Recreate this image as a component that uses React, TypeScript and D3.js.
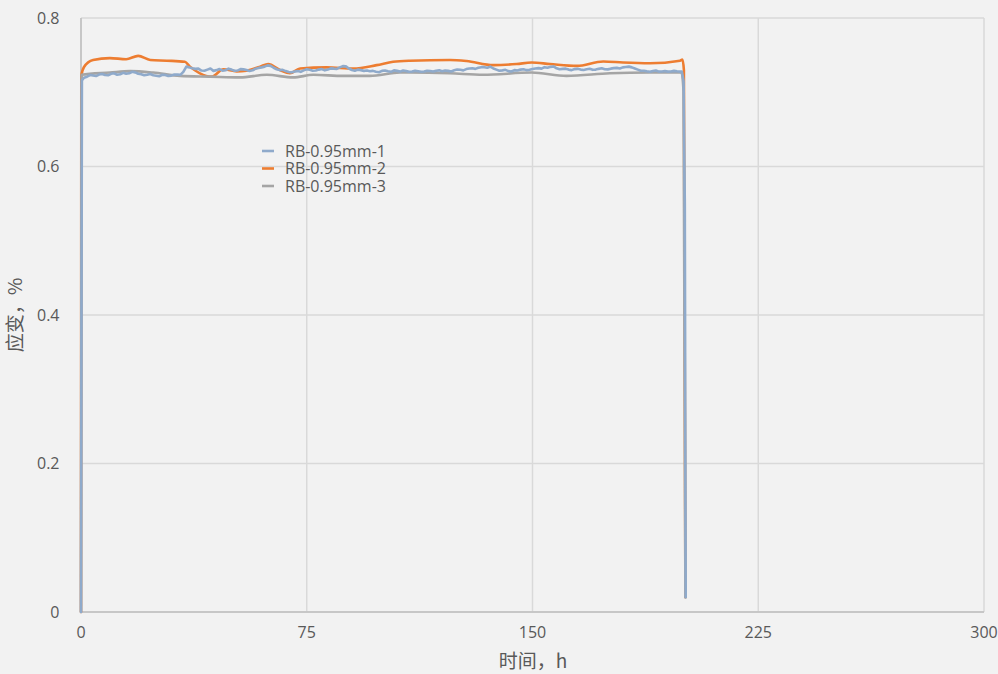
import React from "react";
import * as d3 from "d3";

const xTicks = [0, 75, 150, 225, 300];
const yTicks = [0, 0.2, 0.4, 0.6, 0.8];
const seriesNames = ["RB-0.95mm-1", "RB-0.95mm-2", "RB-0.95mm-3"];
const seriesColors = ["#8faacb", "#ed7d31", "#a5a5a5"];

const blueT = [0, 0.3, ...d3.range(1, 200), 199.6, 200.2, 200.6, 200.9];
const blueV = [
  0, 0.716,
  0.7195, 0.721, 0.7232, 0.7225, 0.7218, 0.7238, 0.7245, 0.7232, 0.7228, 0.7248,
  0.7255, 0.7236, 0.7242, 0.7262, 0.725, 0.7255, 0.7275, 0.7268, 0.725, 0.7242,
  0.7228, 0.7235, 0.7245, 0.7228, 0.7222, 0.7215, 0.7236, 0.7232, 0.7218, 0.7224,
  0.724, 0.7238, 0.7235, 0.7275, 0.7345, 0.7335, 0.7322, 0.7315, 0.7318, 0.7292,
  0.729, 0.7305, 0.732, 0.7288, 0.7298, 0.7312, 0.729, 0.7296, 0.7318, 0.7305,
  0.729, 0.7292, 0.7312, 0.7308, 0.73, 0.7286, 0.7295, 0.7318, 0.7328, 0.7335,
  0.7345, 0.7362, 0.7355, 0.733, 0.731, 0.7298, 0.7302, 0.7285, 0.7272, 0.7268,
  0.728, 0.7285, 0.7275, 0.7295, 0.731, 0.7302, 0.729, 0.7292, 0.7305, 0.7312,
  0.7295, 0.7305, 0.7322, 0.7318, 0.7315, 0.7335, 0.7352, 0.7348, 0.732, 0.73,
  0.729, 0.7305, 0.7298, 0.7288, 0.7292, 0.7282, 0.7288, 0.7275, 0.727, 0.7288,
  0.7292, 0.7282, 0.7275, 0.7295, 0.7288, 0.7278, 0.7292, 0.7286, 0.7275, 0.728,
  0.729, 0.7283, 0.7276, 0.7279, 0.729, 0.7286, 0.728, 0.729, 0.7295, 0.7282,
  0.7292, 0.7288, 0.728, 0.7296, 0.7305, 0.7302, 0.7295, 0.7312, 0.732, 0.7322,
  0.7315, 0.733, 0.7338, 0.7338, 0.733, 0.7345, 0.732, 0.7305, 0.729, 0.7295,
  0.7302, 0.7285, 0.728, 0.7298, 0.7292, 0.7305, 0.731, 0.7298, 0.7302, 0.7312,
  0.732, 0.7325, 0.7318, 0.7338, 0.733, 0.7342, 0.7348, 0.7322, 0.731, 0.7315,
  0.7318, 0.7305, 0.7298, 0.7312, 0.7315, 0.7305, 0.73, 0.731, 0.7316, 0.7302,
  0.7305, 0.7315, 0.7322, 0.731, 0.7308, 0.7318, 0.7325, 0.7328, 0.732, 0.7335,
  0.734, 0.7345, 0.7335, 0.732, 0.7305, 0.729, 0.729, 0.7282, 0.7276, 0.7285,
  0.7292, 0.7278, 0.728, 0.7286, 0.7278, 0.728, 0.7288, 0.7282, 0.7278,
  0.728, 0.715, 0.55, 0.02,
];

const orangeT = [0, 0.1, 1, 4, 9.6, 15, 19, 23, 28.5, 34.5, 36.2, 39.5, 43.4, 47.3, 51.7, 55, 59.5, 62.2, 66.1, 69.4, 72.8, 81.6, 90.5, 98.2, 103.7, 109.3, 122.6, 128.1, 137, 144.7, 149.7, 155.8, 164.7, 173.5, 180.1, 189, 199, 199.8, 200.3, 200.8];
const orangeV = [0, 0.722, 0.734, 0.7435, 0.746, 0.7445, 0.749, 0.7435, 0.7425, 0.741, 0.7345, 0.7255, 0.721, 0.731, 0.728, 0.729, 0.7345, 0.738, 0.73, 0.7255, 0.732, 0.7335, 0.732, 0.7365, 0.741, 0.7425, 0.7435, 0.742, 0.7365, 0.738, 0.74, 0.738, 0.7355, 0.7415, 0.74, 0.739, 0.7425, 0.744, 0.73, 0.02];

const grayT = [0, 0.2, 9.6, 16.3, 24, 32.9, 42.9, 52.8, 61.7, 70.5, 77.2, 87.1, 96, 106, 109.3, 122.6, 133.6, 149.7, 161.3, 175.7, 189, 199.5, 200.2, 200.8];
const grayV = [0, 0.7235, 0.7265, 0.7285, 0.7265, 0.722, 0.721, 0.72, 0.7235, 0.72, 0.7235, 0.722, 0.722, 0.7265, 0.7265, 0.7255, 0.7235, 0.7265, 0.722, 0.7255, 0.7265, 0.7265, 0.7, 0.02];

const W = 998;
const H = 674;
const M = { left: 81, right: 984, top: 18, bottom: 612 };
const FONT = "'Open Sans', 'Noto Sans CJK SC', sans-serif";
const CJK = "'Noto Sans CJK SC', 'Open Sans', sans-serif";
const TXT = "#595959";

export default function App() {
  const x = d3.scaleLinear().domain([0, 300]).range([M.left, M.right]);
  const y = d3.scaleLinear().domain([0, 0.8]).range([M.bottom, M.top]);

  const build = (ts: number[], vs: number[]) => ts.map((t, i) => [t, vs[i]] as [number, number]);
  const lineLinear = d3.line<[number, number]>().x((d) => x(d[0])).y((d) => y(d[1]));
  const lineSmooth = d3
    .line<[number, number]>()
    .x((d) => x(d[0]))
    .y((d) => y(d[1]))
    .curve(d3.curveMonotoneX);

  const series = [
    { d: lineLinear(build(blueT, blueV)), c: seriesColors[0] },
    { d: lineSmooth(build(orangeT, orangeV)), c: seriesColors[1] },
    { d: lineSmooth(build(grayT, grayV)), c: seriesColors[2] },
  ];
  const order = [1, 2, 0];

  return (
    <svg
      width={W}
      height={H}
      style={{ position: "absolute", left: 0, top: 0, background: "#f2f2f2" }}
      fontFamily={FONT}
    >
      <rect x={0} y={0} width={W} height={H} fill="#f2f2f2" />
      {yTicks.map((t) => (
        <line key={"gy" + t} x1={M.left} x2={M.right} y1={y(t)} y2={y(t)} stroke="#d9d9d9" strokeWidth={1.5} />
      ))}
      {xTicks.map((t) => (
        <line key={"gx" + t} x1={x(t)} x2={x(t)} y1={M.top} y2={M.bottom} stroke="#d9d9d9" strokeWidth={1.5} />
      ))}
      <line x1={M.left} x2={M.right} y1={M.bottom} y2={M.bottom} stroke="#bfbfbf" strokeWidth={1.5} />
      <line x1={M.left} x2={M.left} y1={M.top} y2={M.bottom} stroke="#bfbfbf" strokeWidth={1.5} />
      {yTicks.map((t) => (
        <text key={"ty" + t} x={59.5} y={y(t)} dy="0.35em" textAnchor="end" fontSize={16} fill={TXT}>
          {t === 0 ? "0" : t.toFixed(1)}
        </text>
      ))}
      {xTicks.map((t) => (
        <text key={"tx" + t} x={x(t)} y={632} dy="0.35em" textAnchor="middle" fontSize={16} fill={TXT}>
          {t}
        </text>
      ))}
      {order.map((i) => (
        <path
          key={"s" + i}
          d={series[i].d || ""}
          fill="none"
          stroke={series[i].c}
          strokeWidth={2.6}
          strokeLinejoin="round"
          strokeLinecap="round"
        />
      ))}
      {seriesNames.map((n, i) => (
        <g key={"lg" + i} transform={`translate(262, ${151 + i * 17.5})`}>
          <line x1={0} x2={12} y1={0} y2={0} stroke={seriesColors[i]} strokeWidth={2.6} />
          <text x={23} y={0} dy="0.35em" fontSize={16} fill={TXT}>
            {n}
          </text>
        </g>
      ))}
      <text
        transform={`translate(15, ${(M.top + M.bottom) / 2}) rotate(-90)`}
        textAnchor="middle"
        dy="0.35em"
        fontSize={19}
        fontFamily={CJK}
        fill={TXT}
      >
        应变，%
      </text>
      <text
        x={533}
        y={661}
        dy="0.35em"
        textAnchor="middle"
        fontSize={19}
        fontFamily={CJK}
        fill={TXT}
      >
        时间，h
      </text>
    </svg>
  );
}
